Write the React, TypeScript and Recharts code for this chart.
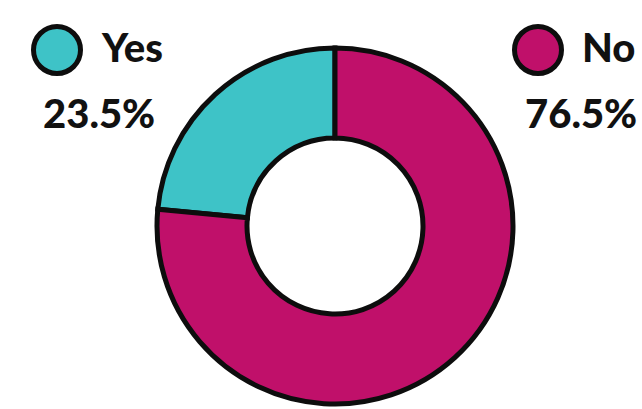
import React from "react";
import { PieChart, Pie, Cell, Legend } from "recharts";

const categories = ["Yes", "No"];
const values = [23.5, 76.5];
const valueLabels = ["23.5%", "76.5%"];
const colors = ["#3EC3C7", "#C0106A"];

const data = categories.map((name, i) => ({ name, value: values[i] }));

const legendPos = [
  { cx: 57, cy: 50, tx: 102, px: 43 },
  { cx: 538, cy: 50, tx: 582, px: 525 },
];

const LegendContent = () => (
  <svg width={642} height={140} style={{ display: "block" }}>
    {data.map((d, i) => (
      <g key={d.name}>
        <circle cx={legendPos[i].cx} cy={legendPos[i].cy} r={23.5} fill={colors[i]} stroke="#0d0d0d" strokeWidth={5} />
        <text x={legendPos[i].tx} y={62} fontFamily="Lato, 'DejaVu Sans', sans-serif" fontWeight={900} fontSize={40} fill="#111">
          {d.name}
        </text>
        <text x={legendPos[i].px} y={128} fontFamily="Lato, 'DejaVu Sans', sans-serif" fontWeight={900} fontSize={40} fill="#111">
          {valueLabels[i]}
        </text>
      </g>
    ))}
  </svg>
);

export default function App() {
  return (
    <div style={{ position: "absolute", left: 0, top: 0, width: 642, height: 409, background: "#fff" }}>
      <PieChart width={642} height={409} margin={{ top: 0, right: 0, bottom: 0, left: 0 }}>
        <Legend
          content={<LegendContent />}
          wrapperStyle={{ position: "absolute", left: 0, top: 0, width: 642, height: 140 }}
        />
        <Pie
          data={data}
          dataKey="value"
          nameKey="name"
          cx={335}
          cy={226}
          innerRadius={88}
          outerRadius={178}
          startAngle={90}
          endAngle={450}
          stroke="#0d0d0d"
          strokeWidth={5}
          isAnimationActive={false}
        >
          {data.map((d, i) => (
            <Cell key={d.name} fill={colors[i]} />
          ))}
        </Pie>
      </PieChart>
    </div>
  );
}
